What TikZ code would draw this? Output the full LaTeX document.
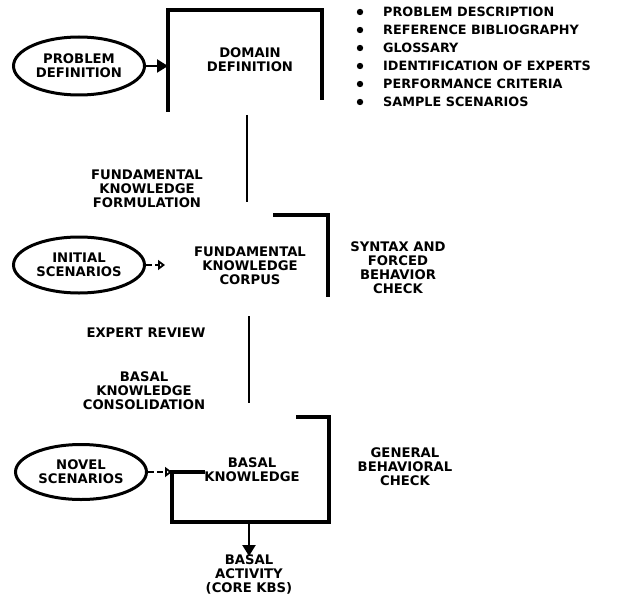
\documentclass[tikz,border=0pt]{standalone}
\usepackage{fontspec}
\setmainfont{DejaVu Sans}
\usetikzlibrary{arrows.meta,shapes.geometric}
\begin{document}
\begin{tikzpicture}[x=1pt,y=-1pt,
  lbl/.style={font=\bfseries\fontsize{13.2}{14}\selectfont,align=center,inner sep=0pt},
  itm/.style={font=\bfseries\fontsize{12.8}{14}\selectfont,anchor=west,inner sep=0pt},
  ell/.style={ellipse,draw,line width=3pt,minimum width=131pt,minimum height=58pt,inner sep=0pt,
    font=\bfseries\fontsize{13.2}{14}\selectfont,align=center},
  boxline/.style={line width=3.2pt,line cap=rect},
  conn/.style={line width=1.8pt},
  solidarrow/.style={line width=2.2pt,-{Triangle[length=11pt,width=13pt]}},
  dasharrow/.style={line width=1.8pt,dashed,dash pattern=on 6pt off 3pt,-{Triangle[open,length=7pt,width=10pt]}}
]
\useasboundingbox (0,0) rectangle (617,596);

% Domain definition
\node[ell] (pd) at (79,66) {PROBLEM\\DEFINITION};
\coordinate (ddtl) at (168,10);
\coordinate (ddtr) at (322,10);
\coordinate (ddbl) at (168,110);
\coordinate (ddbr) at (322,98);
\draw[boxline] (ddbr) -- (ddtr) -- (ddtl) -- (ddbl);
\node[lbl] (dd) at (250,60) {DOMAIN\\DEFINITION};
\coordinate (ddin) at (168,66);
\draw[solidarrow] (pd.east) -- (ddin);

% bullet list
\foreach \t [count=\i] in {PROBLEM DESCRIPTION,REFERENCE BIBLIOGRAPHY,GLOSSARY,IDENTIFICATION OF EXPERTS,PERFORMANCE CRITERIA,SAMPLE SCENARIOS}{
  \fill (360,{12+18*(\i-1)}) circle (3.2pt);
  \node[itm] (it\i) at (383,{12+18*(\i-1)}) {\t};
}

% Fundamental knowledge formulation
\coordinate (c1a) at (247,115);
\coordinate (c1b) at (247,202);
\draw[conn] (c1a) -- (c1b);
\node[lbl] (fkf) at (147,189) {FUNDAMENTAL\\KNOWLEDGE\\FORMULATION};

% Fundamental knowledge corpus
\coordinate (fctl) at (275,215);
\coordinate (fctr) at (328,215);
\coordinate (fcbr) at (328,295);
\draw[boxline] (fctl) -- (fctr) -- (fcbr);
\node[lbl] (fkc) at (250,266) {FUNDAMENTAL\\KNOWLEDGE\\CORPUS};
\node[ell,minimum height=56pt] (is) at (79,265) {INITIAL\\SCENARIOS};
\coordinate (isto) at (165,265);
\draw[dasharrow] (is.east) -- (isto);
\node[lbl] (syn) at (398,268) {SYNTAX AND\\FORCED\\BEHAVIOR\\CHECK};

% Expert review / consolidation
\node[lbl] (er) at (146,333) {EXPERT REVIEW};
\coordinate (c2a) at (249,316);
\coordinate (c2b) at (249,403);
\draw[conn] (c2a) -- (c2b);
\node[lbl] (bkc) at (144,391) {BASAL\\KNOWLEDGE\\CONSOLIDATION};

% Basal knowledge
\coordinate (bk1) at (298,417);
\coordinate (bk2) at (329,417);
\coordinate (bk3) at (329,522);
\coordinate (bk4) at (172,522);
\coordinate (bk5) at (172,472);
\coordinate (bk6) at (203,472);
\draw[boxline] (bk1) -- (bk2) -- (bk3) -- (bk4) -- (bk5) -- (bk6);
\node[lbl] (bk) at (252,470) {BASAL\\KNOWLEDGE};
\node[ell,minimum height=55pt] (ns) at (81,472) {NOVEL\\SCENARIOS};
\draw[dasharrow] (ns.east) -- (bk5);
\node[lbl] (gbc) at (405,467) {GENERAL\\BEHAVIORAL\\CHECK};

% Basal activity
\coordinate (bkout) at (249,522);
\node[lbl] (ba) at (249,574) {BASAL\\ACTIVITY\\(CORE KBS)};
\draw[solidarrow] (bkout) -- ([yshift=-2pt]ba.north);
\end{tikzpicture}
\end{document}
